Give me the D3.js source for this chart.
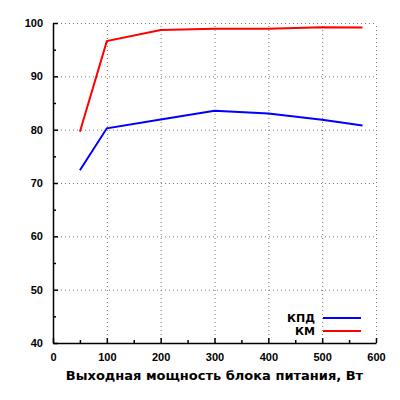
<!DOCTYPE html>
<html>
<head>
<meta charset="utf-8">
<script src="https://cdn.jsdelivr.net/npm/d3@7"></script>
<style>
  body { margin: 0; background: #fff; }
  svg { display: block; font-family: "DejaVu Sans", sans-serif; font-weight: bold; }
  .grid line { stroke: #777; stroke-dasharray: 1 3; stroke-width: 1; }
  .grid .domain { display: none; }
  .axis text { font-size: 11px; font-weight: bold; fill: #000; }
  .axis line, .axis path { stroke: #000; stroke-width: 1.5; }
</style>
</head>
<body>
<svg id="chart" width="400" height="400"></svg>
<script>
const power = [50, 100, 200, 300, 400, 500, 575]
const kpd = [72.4, 80.25, 81.9, 83.55, 83.05, 81.85, 80.8]
const km = [79.6, 96.6, 98.7, 98.9, 98.9, 99.2, 99.15]
const xTicks = [0, 100, 200, 300, 400, 500, 600]
const yTicks = [40, 50, 60, 70, 80, 90, 100]
const seriesNames = ['КПД', 'КМ']
const seriesColors = ['#0000ff', '#ff0000']

const MARGIN = { left: 53, right: 24, top: 23, bottom: 57 }
const WIDTH = 400 - MARGIN.left - MARGIN.right
const HEIGHT = 400 - MARGIN.top - MARGIN.bottom

const svg = d3.select('#chart')
const chart = svg.append('g')
  .attr('transform', `translate(${MARGIN.left}, ${MARGIN.top})`)

const x = d3.scaleLinear().domain([0, 600]).range([0, WIDTH])
const y = d3.scaleLinear().domain([40, 100]).range([HEIGHT, 0])

// dotted grid
chart.append('g')
  .attr('class', 'grid')
  .call(d3.axisLeft(y).tickValues(yTicks.slice(1)).tickSize(-WIDTH).tickFormat(''))
chart.append('g')
  .attr('class', 'grid')
  .attr('transform', `translate(0, ${HEIGHT})`)
  .call(d3.axisBottom(x).tickValues(xTicks.slice(1)).tickSize(-HEIGHT).tickFormat(''))

// minor ticks, pointing inward
chart.append('g')
  .attr('class', 'axis')
  .call(d3.axisLeft(y).tickValues(d3.range(45, 100, 10)).tickSize(-3).tickFormat(''))
  .select('.domain').remove()
chart.append('g')
  .attr('class', 'axis')
  .attr('transform', `translate(0, ${HEIGHT})`)
  .call(d3.axisBottom(x).tickValues(d3.range(50, 600, 100)).tickSize(-3).tickFormat(''))
  .select('.domain').remove()

// main axes
chart.append('g')
  .attr('class', 'axis')
  .call(d3.axisLeft(y).tickValues(yTicks).tickSize(-5).tickSizeOuter(0).tickPadding(10))
chart.append('g')
  .attr('class', 'axis')
  .attr('transform', `translate(0, ${HEIGHT})`)
  .call(d3.axisBottom(x).tickValues(xTicks).tickSize(-5).tickSizeOuter(0).tickPadding(10))

chart.append('text')
  .attr('x', WIDTH / 2)
  .attr('y', HEIGHT + 37)
  .attr('text-anchor', 'middle')
  .style('font-size', '13px')
  .text('Выходная мощность блока питания, Вт')

const line = d3.line()
  .x((d, i) => x(power[i]))
  .y(d => y(d))

;[kpd, km].forEach((values, k) => {
  chart.append('path')
    .datum(values)
    .attr('fill', 'none')
    .attr('stroke', seriesColors[k])
    .attr('stroke-width', 2)
    .attr('d', line)
})

// legend
const legend = chart.append('g')
  .attr('transform', `translate(${WIDTH - 15}, ${HEIGHT - 25})`)
seriesNames.forEach((name, k) => {
  const row = legend.append('g').attr('transform', `translate(0, ${k * 13})`)
  row.append('line')
    .attr('x1', -38).attr('x2', 0)
    .attr('stroke', seriesColors[k])
    .attr('stroke-width', 2)
  row.append('text')
    .attr('x', -46)
    .attr('y', 4)
    .attr('text-anchor', 'end')
    .style('font-size', '11px')
    .text(name)
})
</script>
</body>
</html>
